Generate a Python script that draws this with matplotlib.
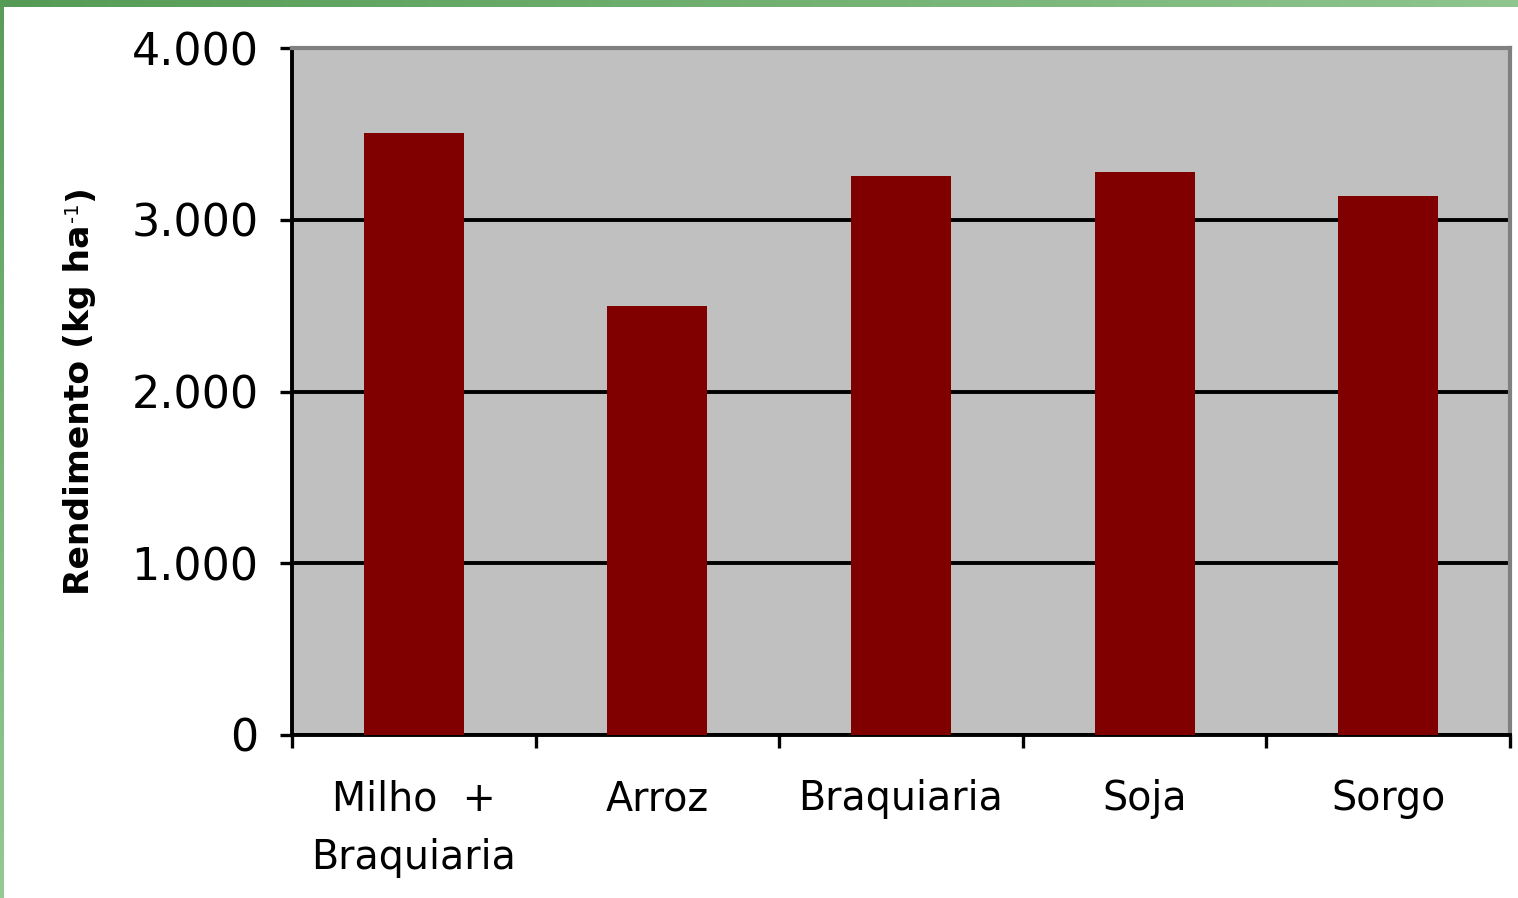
import numpy as np
import matplotlib
matplotlib.use("Agg")
import matplotlib.pyplot as plt
from matplotlib import font_manager as fm
from matplotlib.ticker import FuncFormatter, FixedLocator

# Yield by crop
categories = ["Milho  +\nBraquiaria", "Arroz", "Braquiaria", "Soja", "Sorgo"]
rendimento = [3505, 2500, 3255, 3280, 3140]
y_ticks = [0, 1000, 2000, 3000, 4000]

W, H = 1518, 898
fig = plt.figure(figsize=(W / 100, H / 100), dpi=100)
fig.patch.set_facecolor("white")

title_font = fm.FontProperties(family="DejaVu Sans", weight="bold", size=24.8)
sup_font = fm.FontProperties(family="DejaVu Sans", size=14)

# green frame: gradient band across the top and strip down the left edge
top = fig.add_axes([0, 1 - 7 / H, 1, 7 / H])
grad_h = np.linspace(0, 1, 256).reshape(1, -1)
c0 = np.array([85, 155, 85]) / 255
c1 = np.array([142, 198, 142]) / 255
img_h = c0[None, None, :] * (1 - grad_h[..., None]) + c1[None, None, :] * grad_h[..., None]
top.imshow(img_h, aspect="auto", extent=[0, 1, 0, 1])
top.set_axis_off()

left = fig.add_axes([0, 0, 4 / W, 1 - 7 / H])
grad_v = np.linspace(0, 1, 256).reshape(-1, 1)
c2 = np.array([88, 158, 88]) / 255
c3 = np.array([148, 202, 148]) / 255
img_v = c2[None, None, :] * (1 - grad_v[..., None]) + c3[None, None, :] * grad_v[..., None]
left.imshow(img_v, aspect="auto", extent=[0, 1, 0, 1])
left.set_axis_off()

# main plot area
x0, x1 = 292, 1510
y0, y1 = 48, 735
ax = fig.add_axes([x0 / W, (H - y1) / H, (x1 - x0) / W, (y1 - y0) / H])
ax.set_facecolor("#C0C0C0")

x = np.arange(len(categories))
ax.bar(x, rendimento, width=0.41, color="#800000", zorder=3)

ax.set_xlim(-0.5, len(categories) - 0.5)
ax.set_ylim(0, 4000)

ax.yaxis.set_major_locator(FixedLocator(y_ticks))
ax.yaxis.set_major_formatter(FuncFormatter(lambda v, p: f"{int(v):,}".replace(",", ".")))
ax.grid(axis="y", color="black", linewidth=2.8, zorder=1)
ax.set_axisbelow(True)

# category boundaries carry the tick marks, centres carry the labels
ax.xaxis.set_major_locator(FixedLocator(np.arange(len(categories) + 1) - 0.5))
ax.xaxis.set_major_formatter(FuncFormatter(lambda v, p: ""))
ax.xaxis.set_minor_locator(FixedLocator(x))
ax.set_xticklabels(categories, minor=True, fontsize=28.5, family="DejaVu Sans",
                   linespacing=1.6)

ax.tick_params(axis="y", which="major", direction="out", length=9, width=2.4,
               labelsize=32, pad=15, color="black")
ax.tick_params(axis="x", which="major", direction="out", length=9, width=2.4,
               color="black")
ax.tick_params(axis="x", which="minor", length=0, pad=32)

for s in ("left", "bottom"):
    ax.spines[s].set_color("black")
    ax.spines[s].set_linewidth(2.8)
for s in ("top", "right"):
    ax.spines[s].set_color("#808080")
    ax.spines[s].set_linewidth(3.0)

# vertical axis title, built from pieces so the superscript sits raised
lab_x = 80 / W
t1 = fig.text(lab_x, 1 - 595 / H, "Rendimento (kg ha", ha="center", va="bottom",
              rotation=90, fontproperties=title_font)
fig.canvas.draw()
bb = t1.get_window_extent()
sup = fig.text(bb.x0 + 9, bb.y1 + 2, "-1", ha="center", va="bottom",
               rotation=90, fontproperties=sup_font, transform=None)
fig.canvas.draw()
bb2 = sup.get_window_extent()
fig.text(lab_x, (bb2.y1 + 2) / H, ")", ha="center", va="bottom",
         rotation=90, fontproperties=title_font)

fig.savefig("out.png", dpi=100, facecolor="white")
